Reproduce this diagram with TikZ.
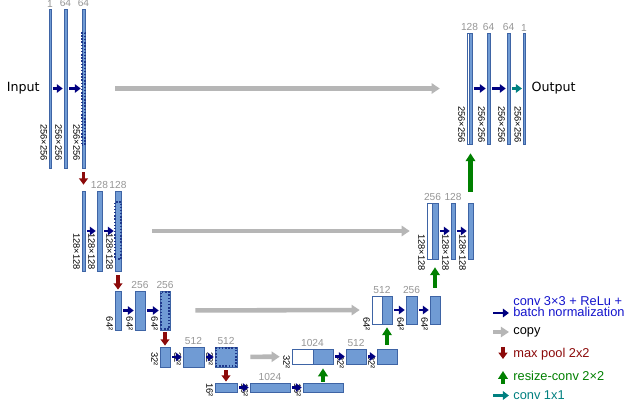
\documentclass[tikz,border=0pt]{standalone}
\usepackage{fontspec}
\setmainfont{Liberation Sans}
\newfontfamily\iofont{DejaVu Sans}
\usetikzlibrary{arrows.meta,positioning,fit}
\definecolor{barblue}{RGB}{112,155,212}
\definecolor{barline}{RGB}{62,100,165}
\definecolor{dotblue}{RGB}{30,55,140}
\definecolor{convblue}{RGB}{0,0,128}
\definecolor{copygray}{RGB}{182,182,182}
\definecolor{poolred}{RGB}{140,10,10}
\definecolor{upgreen}{RGB}{0,128,0}
\definecolor{oneteal}{RGB}{0,128,128}
\definecolor{numgray}{RGB}{150,150,150}
\definecolor{legblue}{RGB}{20,20,205}
\tikzset{
bar/.style={draw=barline,fill=barblue,line width=0.4pt,inner sep=0pt},
catbox/.style={draw=barline,fill=white,line width=0.4pt,inner sep=0pt},
crop/.style={draw=dotblue,densely dotted,line width=0.8pt,inner sep=0pt},
numlab/.style={text=numgray,font=\fontsize{5.8}{7}\selectfont,inner sep=0.7pt},
dimlab/.style={rotate=-90,anchor=north east,font=\fontsize{5.3}{6}\selectfont,inner sep=0.8pt},
iotext/.style={font=\iofont\fontsize{7.2}{8.6}\selectfont,inner sep=0pt},
legtext/.style={anchor=base west,font=\fontsize{7.3}{6}\selectfont,inner sep=0pt},
conv/.style={convblue,line width=1.7pt,-{Triangle[length=3.4pt,width=4.8pt]},shorten <=1pt,shorten >=0.5pt},
onearr/.style={oneteal,line width=1.7pt,-{Triangle[length=3.4pt,width=4.8pt]},shorten <=1pt,shorten >=0.5pt},
copyarr/.style={copygray,line width=2.6pt,-{Triangle[length=4.6pt,width=5.8pt]}},
poolarr/.style={poolred,line width=2.2pt,-{Triangle[length=3.6pt,width=5pt]}},
uparr/.style={upgreen,line width=2.4pt,-{Triangle[length=4.5pt,width=5.4pt]}}
}
\begin{document}
\begin{tikzpicture}[x=0.02cm,y=-0.02cm]
\fill[white] (0,0) rectangle (640,408);
\useasboundingbox (0,0) rectangle (640,408);
\node[bar,fit={(49.5,9) (50.5,168)},label={[numlab]above:1}] (d1a) {};
\node[bar,fit={(64,9) (67,168)},label={[numlab]above:64}] (d1b) {};
\node[bar,fit={(82,9) (85,168)},label={[numlab]above:64}] (d1c) {};
\node[crop,fit={(82,33) (85,145)}] (k1) {};
\node[bar,fit={(82,191) (85,271)}] (d2a) {};
\node[bar,fit={(97,191) (102,271)},label={[numlab]above:128}] (d2b) {};
\node[bar,fit={(115,191) (121,271)},label={[numlab]above:128}] (d2c) {};
\node[crop,fit={(115,202) (121,259)}] (k2) {};
\node[bar,fit={(115,291) (121,330)}] (d3a) {};
\node[bar,fit={(135,291) (145,330)},label={[numlab]above:256}] (d3b) {};
\node[bar,fit={(160,291) (170,330)},label={[numlab]above:256}] (d3c) {};
\node[crop,fit={(161,292) (169,329)}] (k3) {};
\node[bar,fit={(160,347) (170,367)}] (d4a) {};
\node[bar,fit={(183,347) (204,367)},label={[numlab]above:512}] (d4b) {};
\node[bar,fit={(215,347) (237,367)},label={[numlab]above:512}] (d4c) {};
\node[crop,fit={(216,348) (236,366)}] (k4) {};
\node[bar,fit={(215,383) (237,392)}] (b5a) {};
\node[bar,fit={(250,383) (290,392)},label={[numlab]above:1024}] (b5b) {};
\node[bar,fit={(303,383) (343,392)}] (b5c) {};
\node[catbox,fit={(292,349) (333,364)},label={[numlab]above:1024}] (u4a) {};
\node[bar,fit={(313,349) (333,364)}] (u4ab) {};
\node[bar,fit={(346,349) (366,364)},label={[numlab]above:512}] (u4b) {};
\node[bar,fit={(377,349) (397,364)}] (u4c) {};
\node[catbox,fit={(372,296) (392,324)},label={[numlab]above:512}] (u3a) {};
\node[bar,fit={(382,296) (392,324)}] (u3ab) {};
\node[bar,fit={(406,296) (417,324)},label={[numlab]above:256}] (u3b) {};
\node[bar,fit={(430,296) (440,324)}] (u3c) {};
\node[catbox,fit={(427,203) (438,259)},label={[numlab]above:256}] (u2a) {};
\node[bar,fit={(432,203) (438,259)}] (u2ab) {};
\node[bar,fit={(451,203) (455,259)},label={[numlab]above:128}] (u2b) {};
\node[bar,fit={(468,203) (473,259)}] (u2c) {};
\node[catbox,fit={(467,33) (472,144)},label={[numlab]above:128}] (u1a) {};
\node[bar,fit={(469,33) (472,144)}] (u1ab) {};
\node[bar,fit={(487,33) (490,144)},label={[numlab]above:64}] (u1b) {};
\node[bar,fit={(507,33) (510,144)},label={[numlab]above:64}] (u1c) {};
\node[bar,fit={(523.5,33) (524.5,144)},label={[numlab]above:1}] (u1d) {};
\node[iotext,left=5pt of d1a] (in) {Input};
\node[iotext,right=3.5pt of u1d] (out) {Output};
\foreach \b in {d1a,d1b,d1c}
  \node[dimlab] (s\b) at ([yshift=3.4pt]\b.south west) {256×256};
\foreach \b in {u1a,u1b,u1c,u1d}
  \node[dimlab] (s\b) at (\b.south west) {256×256};
\foreach \b in {d2a,d2b,d2c}
  \node[dimlab] (s\b) at (\b.south west) {128×128};
\foreach \b in {u2a,u2b,u2c}
  \node[dimlab] (s\b) at ([yshift=-7.4pt]\b.south west) {128×128};
\foreach \b in {d3a,d3b,d3c}
  \node[dimlab] (s\b) at ([yshift=-1pt]\b.south west) {64²};
\foreach \b in {u3a,u3b,u3c}
  \node[dimlab] (s\b) at ([yshift=-4.5pt]\b.south west) {64²};
\foreach \b in {d4a,d4b,d4c}
  \node[dimlab] (s\b) at (\b.south west) {32²};
\foreach \b in {u4a,u4b,u4c}
  \node[dimlab] (s\b) at ([yshift=-3.4pt]\b.south west) {32²};
\foreach \b in {b5a,b5b,b5c}
  \node[dimlab] (s\b) at ([yshift=-3.4pt]\b.south west) {16²};
\foreach \a/\b in {d1a/d1b,d1b/d1c,d2a/d2b,d2b/d2c,d3a/d3b,d3b/d3c,d4a/d4b,d4b/d4c,b5a/b5b,b5b/b5c,u4a/u4b,u4b/u4c,u3a/u3b,u3b/u3c,u2a/u2b,u2b/u2c,u1a/u1b,u1b/u1c}
  \draw[conv] (\a) -- (\b);
\draw[onearr] (u1c) -- (u1d);
\draw[copyarr,shorten <=17pt,shorten >=15.3pt] (d1c) -- (u1a);
\draw[copyarr,shorten <=17.6pt,shorten >=9.6pt] (d2c) -- (u2a);
\draw[copyarr,shorten <=14.2pt,shorten >=6.8pt] (d3c) -- (u3a);
\draw[copyarr,shorten <=7.4pt,shorten >=6.8pt] (d4c) -- (u4a);
\draw[poolarr,shorten <=2.3pt,shorten >=3.4pt] (d1c) -- (d2a);
\draw[poolarr,shorten <=2.3pt,shorten >=0.6pt] (d2c) -- (d3a);
\draw[poolarr,shorten <=1.1pt,shorten >=0.6pt] (d3c) -- (d4a);
\draw[poolarr,shorten <=1.7pt,shorten >=0.6pt] (d4c) -- (b5a);
\draw[uparr,shorten <=0.6pt,shorten >=2.3pt] (b5c) -- (u4ab);
\draw[uparr,shorten <=2.3pt,shorten >=1.7pt] (u4c) -- (u3ab);
\draw[uparr,shorten <=4.5pt,shorten >=4.5pt] (u3c) -- (u2ab);
\draw[uparr,shorten <=6.2pt,shorten >=5.1pt] (u2c) -- (u1ab);
\node[legtext,text=legblue] (lg1a) at (513,305.3) {conv 3×3 + ReLu +};
\node[legtext,text=legblue] (lg1b) at (513,316.8) {batch normalization};
\node[legtext] (lg2) at (513,335) {copy};
\node[legtext,text=poolred] (lg3) at (513,357.5) {max pool 2x2};
\node[legtext,text=upgreen] (lg4) at (513,380.7) {resize-conv 2×2};
\node[legtext,text=oneteal] (lg5) at (513,399.3) {conv 1x1};
\coordinate (lk1) at (493,313);
\coordinate (lk2) at (493,332);
\coordinate (lk3a) at (503,347);
\coordinate (lk3b) at (503,359);
\coordinate (lk4a) at (503,384);
\coordinate (lk4b) at (503,371);
\coordinate (lk5) at (493,395.5);
\draw[conv,shorten <=0pt,shorten >=2.3pt] (lk1) -- (lk1 -| lg1b.west);
\draw[copyarr,shorten >=2.3pt] (lk2) -- (lk2 -| lg2.west);
\draw[poolarr] (lk3a) -- (lk3b);
\draw[uparr] (lk4a) -- (lk4b);
\draw[onearr,shorten <=0pt,shorten >=2.3pt] (lk5) -- (lk5 -| lg5.west);
\end{tikzpicture}
\end{document}
